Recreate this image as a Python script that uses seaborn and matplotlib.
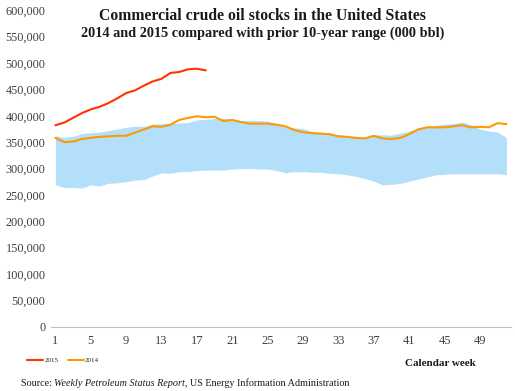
import numpy as np
import pandas as pd
import matplotlib.pyplot as plt
import seaborn as sns

# Weekly commercial crude stocks, thousand barrels
weeks = list(range(1, 53))
stocks_2014 = [358, 350, 351, 356, 358, 360, 361, 362, 362, 368, 374, 380, 379,
               383, 392, 396, 399, 397, 398, 390, 392, 388, 385, 385, 385, 383,
               380, 373, 369, 367, 366, 365, 361, 360, 358, 357, 362, 357, 356,
               358, 365, 374, 378, 378, 378, 380, 382, 378, 379, 378, 386, 384]
stocks_2015 = [382, 387, 396, 405, 412, 417, 424, 433, 443, 448, 457, 465, 470,
               481, 483, 488, 489, 486]
range_max = [362, 359, 361, 366, 368, 369, 372, 375, 378, 380, 380, 384, 385,
             386, 386, 387, 392, 393, 395, 395, 393, 391, 391, 391, 390, 385,
             379, 377, 376, 370, 368, 367, 364, 362, 360, 359, 364, 364, 363,
             367, 371, 376, 380, 382, 384, 385, 388, 383, 375, 371, 369, 359]
range_min = [269, 264, 264, 263, 269, 267, 272, 273, 275, 278, 279, 286, 292,
             291, 294, 294, 296, 297, 297, 297, 299, 300, 300, 299, 299, 296,
             292, 294, 294, 293, 293, 291, 290, 288, 285, 281, 276, 269, 270,
             272, 276, 280, 284, 288, 289, 290, 290, 290, 290, 290, 290, 288]
tick_weeks = [1, 5, 9, 13, 17, 21, 25, 29, 33, 37, 41, 45, 49]

df14 = pd.DataFrame({"week": weeks, "stocks": np.array(stocks_2014) * 1000})
df15 = pd.DataFrame({"week": weeks[:len(stocks_2015)],
                     "stocks": np.array(stocks_2015) * 1000})

sns.set_style("white")
plt.rcParams['font.family'] = ['Liberation Serif', 'DejaVu Serif']

fig = plt.figure(figsize=(5.15, 3.91), dpi=100)
ax = fig.add_axes([0.099, 0.164, 0.893, 0.81])

ax.fill_between(weeks, np.array(range_min) * 1000, np.array(range_max) * 1000,
                color='#b3dffb', linewidth=0)
sns.lineplot(data=df15, x="week", y="stocks", ax=ax, color='#ff3300', linewidth=1.5,
             label="2015")
sns.lineplot(data=df14, x="week", y="stocks", ax=ax, color='#ff9900', linewidth=1.5,
             label="2014")

ax.set_xlim(0.5, 52.5)
ax.set_ylim(0, 600000)
ax.set_yticks(range(0, 600001, 50000))
ax.set_yticklabels([f"{v:,}" for v in range(0, 600001, 50000)])
ax.set_xticks(tick_weeks)
ax.set_xticks(np.arange(0.5, 53, 4), minor=True)
ax.tick_params(axis='x', which='major', length=0, pad=6, labelsize=9, colors='#404040')
ax.tick_params(axis='x', which='minor', length=4, color='#bfbfbf', direction='out')
ax.tick_params(axis='y', length=0, pad=4, labelsize=8.8, colors='#404040')
ax.set_xlabel("")
ax.set_ylabel("")
for side in ['top', 'right', 'left']:
    ax.spines[side].set_visible(False)
ax.spines['bottom'].set_color('#bfbfbf')

ax.legend_.remove()
handles, labels = ax.get_legend_handles_labels()
fig.legend(handles, labels, loc='lower left', bbox_to_anchor=(0.04, 0.055), ncol=2,
           frameon=False, fontsize=5, handlelength=2.3, handletextpad=0.2,
           columnspacing=1.4)

fig.text(0.51, 0.958, "Commercial crude oil stocks in the United States",
         ha='center', va='center', fontsize=11.3, fontweight='bold', color='#1a1a1a')
fig.text(0.51, 0.915, "2014 and 2015 compared with prior 10-year range (000 bbl)",
         ha='center', va='center', fontsize=10.3, fontweight='bold', color='#1a1a1a')
fig.text(0.786, 0.07, "Calendar week", fontsize=8, fontweight='bold',
         color='#1a1a1a', va='center')

t1 = fig.text(0.04, 0.014, "Source: ", fontsize=7.3, color='#1a1a1a', va='baseline')
t2 = ax.annotate("Weekly Petroleum Status Report", xy=(1, 0), xycoords=t1,
                 fontsize=7.3, style='italic', color='#1a1a1a', va='bottom')
ax.annotate(", US Energy Information Administration", xy=(1, 0), xycoords=t2,
            fontsize=7.3, color='#1a1a1a', va='bottom')

fig.savefig("out.png", dpi=100)
